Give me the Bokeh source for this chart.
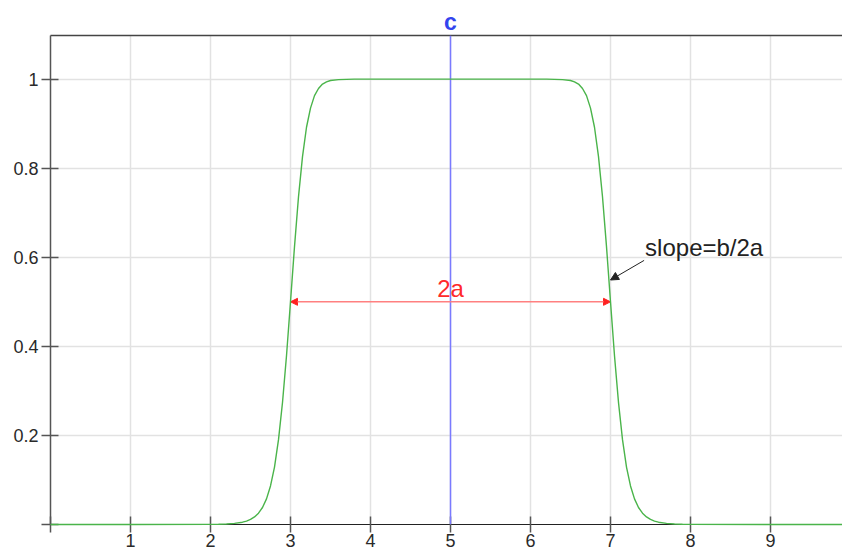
from bokeh.plotting import figure
from bokeh.models import (Span, Label, Arrow, NormalHead, FixedTicker, LinearAxis,
                          Range1d)
from bokeh.embed import file_html
from bokeh.resources import INLINE

# values
x_vals = [0, 1, 2.0, 2.1, 2.2, 2.3, 2.4, 2.45, 2.5, 2.55, 2.6, 2.65, 2.7, 2.75, 2.8,
          2.85, 2.9, 2.95, 3.0, 3.05, 3.1, 3.15, 3.2, 3.25, 3.3, 3.35, 3.4, 3.45,
          3.5, 3.6, 3.8, 4.0, 5.0, 6.0, 6.2, 6.4, 6.5, 6.55, 6.6, 6.65, 6.7, 6.75,
          6.8, 6.85, 6.9, 6.95, 7.0, 7.05, 7.1, 7.15, 7.2, 7.25, 7.3, 7.35, 7.4,
          7.45, 7.5, 7.55, 7.6, 7.7, 7.8, 7.9, 8.0, 9.0, 9.9]
y_vals = [0, 0, 0.0003, 0.0006, 0.0012, 0.0025, 0.0052, 0.0077, 0.0114, 0.0170,
          0.0254, 0.0382, 0.0576, 0.0866, 0.129, 0.1905, 0.274, 0.379, 0.5, 0.624,
          0.736, 0.826, 0.892, 0.935, 0.963, 0.979, 0.989, 0.994, 0.997, 0.999,
          1.0, 1.0, 1.0, 1.0, 1.0, 0.999, 0.997, 0.994, 0.989, 0.979, 0.963, 0.935,
          0.892, 0.826, 0.736, 0.624, 0.5, 0.379, 0.274, 0.1905, 0.129, 0.0866,
          0.0576, 0.0382, 0.0254, 0.0170, 0.0114, 0.0077, 0.0052, 0.0025, 0.0012,
          0.0006, 0.0003, 0, 0]

c_val = 5.0
a_left = 3.0
a_right = 7.0
half_level = 0.5
x_ticks = [0, 1, 2, 3, 4, 5, 6, 7, 8, 9]
y_ticks = [0, 0.2, 0.4, 0.6, 0.8, 1.0]
y_tick_labels = {0: "", 0.2: "0.2", 0.4: "0.4", 0.6: "0.6", 0.8: "0.8", 1.0: "1"}
x_tick_labels = {0: ""}
slope_text = "slope=b/2a"
width_text = "2a"
c_text = "c"
slope_arrow_start = (7.42, 0.593)
slope_arrow_end = (7.0, 0.549)

FONT = "Liberation Sans"
AXIS_COL = "#555555"
TXT_COL = "#2a2a2a"

p = figure(width=842, height=549, output_backend="svg", toolbar_location=None,
           x_range=Range1d(0, 9.9), y_range=Range1d(0, 1.098),
           min_border_left=50, min_border_top=35, min_border_right=0,
           min_border_bottom=20, x_axis_location="below")
p.outline_line_color = None
p.background_fill_color = "white"
p.border_fill_color = "white"

# grids
p.xgrid.ticker = FixedTicker(ticks=x_ticks)
p.ygrid.ticker = FixedTicker(ticks=y_ticks)
p.grid.grid_line_color = "#e2e2e2"
p.grid.grid_line_width = 1.5

# bottom axis
xa = p.xaxis[0]
xa.ticker = FixedTicker(ticks=x_ticks)
xa.major_label_overrides = x_tick_labels
xa.axis_line_color = "#222222"
xa.axis_line_width = 1.2
xa.major_tick_in = 8
xa.major_tick_out = 8
xa.major_tick_line_color = AXIS_COL
xa.major_tick_line_width = 1.5
xa.minor_tick_line_color = None
xa.major_label_standoff = 1
xa.major_label_text_font = FONT
xa.major_label_text_font_size = "18px"
xa.major_label_text_color = TXT_COL

# left axis
ya = p.yaxis[0]
ya.ticker = FixedTicker(ticks=y_ticks)
ya.major_label_overrides = y_tick_labels
ya.axis_line_color = AXIS_COL
ya.axis_line_width = 1.5
ya.major_tick_in = 8
ya.major_tick_out = 9
ya.major_tick_line_color = AXIS_COL
ya.major_tick_line_width = 1.5
ya.minor_tick_line_color = None
ya.major_label_standoff = 3
ya.major_label_text_font = FONT
ya.major_label_text_font_size = "18px"
ya.major_label_text_color = TXT_COL

# top axis used as the top border and the "c" label
top = LinearAxis(ticker=FixedTicker(ticks=[c_val]),
                 major_label_overrides={c_val: c_text})
top.axis_line_color = "#444444"
top.axis_line_width = 1.5
top.major_tick_in = 0
top.major_tick_out = 0
top.minor_tick_line_color = None
top.major_label_standoff = 1
top.major_label_text_font = FONT
top.major_label_text_font_size = "23px"
top.major_label_text_font_style = "bold"
top.major_label_text_color = "#3344ee"
p.add_layout(top, "above")

# vertical c line
p.add_layout(Span(location=c_val, dimension="height", line_color="#7a7aff",
                  line_width=1.5))

# curve
r = p.line(x_vals, y_vals, line_color="#4ab44a", line_width=1.4)
r.level = "overlay"

# 2a arrow
p.add_layout(Arrow(x_start=c_val, y_start=half_level, x_end=a_left, y_end=half_level,
                   line_color="#ff8080", line_width=1.5,
                   end=NormalHead(size=7, fill_color="#ff2020", line_color="#ff2020")))
p.add_layout(Arrow(x_start=c_val, y_start=half_level, x_end=a_right, y_end=half_level,
                   line_color="#ff8080", line_width=1.5,
                   end=NormalHead(size=7, fill_color="#ff2020", line_color="#ff2020")))
p.add_layout(Label(x=c_val, y=half_level, text=width_text, text_align="center",
                   text_baseline="bottom", y_offset=0, text_font=FONT,
                   text_font_size="24px", text_color="#ff2a2a"))

# slope annotation
p.add_layout(Arrow(x_start=slope_arrow_start[0], y_start=slope_arrow_start[1],
                   x_end=slope_arrow_end[0], y_end=slope_arrow_end[1],
                   line_color="#222222", line_width=1,
                   end=NormalHead(size=8, fill_color="#222222", line_color="#222222")))
p.add_layout(Label(x=slope_arrow_start[0], y=slope_arrow_start[1], text=slope_text,
                   text_align="left", text_baseline="bottom", x_offset=1, y_offset=-1,
                   text_font=FONT, text_font_size="24px", text_color="#222222"))

open("out.html", "w").write(file_html(p, INLINE))
